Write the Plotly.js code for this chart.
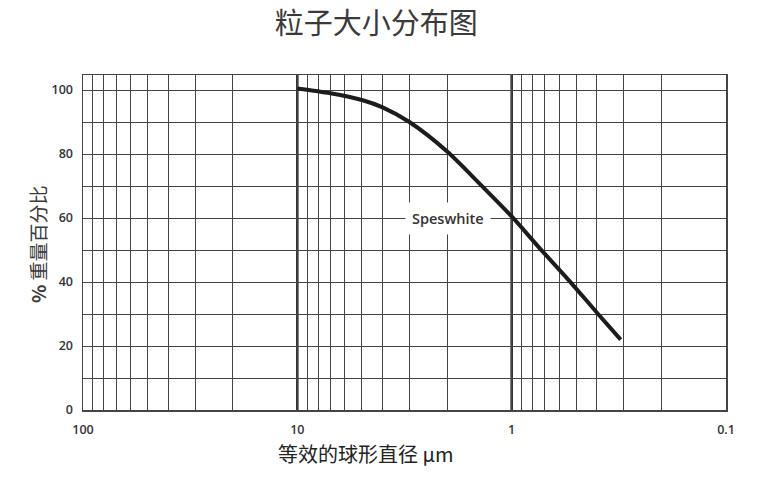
<!DOCTYPE html>
<html><head><meta charset="utf-8">
<script src="https://cdn.plot.ly/plotly-3.0.1.min.js"></script>
<style>html,body{margin:0;padding:0;background:#fff;}#chart{width:763px;height:490px;}</style>
</head><body><div id="chart"></div>
<script>
// Equivalent spherical diameter (µm) and cumulative % by weight finer
const diameter = [10, 7, 5, 4, 3, 2, 1.39, 1, 0.75, 0.537, 0.4, 0.31];
const percent  = [100.5, 99, 96.9, 94.6, 90, 80.8, 70.3, 60.5, 51, 40.3, 30.4, 22];
const seriesName = 'Speswhite';

const xGrid = [100,90,80,70,60,50,40,30,20,10,9,8,7,6,5,4,3,2,1,0.9,0.8,0.7,0.6,0.5,0.4,0.3,0.2,0.1];
const xLabeled = [100,10,1,0.1];
const xLabelText = ['100','10','1','0.1'];
const xEmphasis = [10, 1];
const yGrid = [0,10,20,30,40,50,60,70,80,90,100];
const yLabeled = [0,20,40,60,80,100];

const titleText = '粒子大小分布图';
const xTitle = '等效的球形直径 μm';
const yTitle = '<b>%</b> 重量百分比';

const xTickText = xGrid.map(v => { const i = xLabeled.indexOf(v); return i >= 0 ? xLabelText[i] : ''; });
const yTickText = yGrid.map(v => yLabeled.includes(v) ? String(v) : '');

const tickFont = {family:'Open Sans, sans-serif', size:12.5, color:'#333', weight:600};

const trace = {
  x: diameter, y: percent, type:'scatter', mode:'lines', name: seriesName,
  line:{color:'#1c1c1c', width:4, shape:'spline', smoothing:0.8},
  hoverinfo:'skip', showlegend:false
};

const layout = {
  width:763, height:490,
  margin:{l:83, r:37, t:75, b:80},
  paper_bgcolor:'#fff', plot_bgcolor:'#fff',
  title:{text:titleText, font:{family:'Noto Sans CJK SC, sans-serif', size:29, color:'#3a3a3a'},
         x:0.493, xanchor:'center', y:0.952, yanchor:'middle', yref:'container'},
  xaxis:{type:'log', range:[2,-1], tickmode:'array', tickvals:xGrid, ticktext:xTickText,
         showgrid:true, gridcolor:'#444', gridwidth:1, zeroline:false,
         showline:true, mirror:true, linecolor:'#444', linewidth:1.5,
         ticks:'', tickfont:tickFont, ticklabelstandoff:7},
  yaxis:{range:[0,104.7], tickmode:'array', tickvals:yGrid, ticktext:yTickText,
         showgrid:true, gridcolor:'#444', gridwidth:1, zeroline:false,
         showline:true, mirror:true, linecolor:'#444', linewidth:1.5,
         ticks:'', tickfont:tickFont, ticklabelstandoff:6},
  shapes: xEmphasis.map(v => ({type:'line', xref:'x', yref:'paper', x0:v, x1:v, y0:0, y1:1,
                           line:{color:'#222', width:2.5}, layer:'below'})),
  annotations:[
    {text:seriesName, xref:'x', yref:'y', x:Math.log10(1.99), y:60, showarrow:false,
     font:{family:'Open Sans, sans-serif', size:14.5, color:'#333', weight:600},
     bgcolor:'#fff', borderpad:6, xanchor:'center', yanchor:'middle'},
    {text:xTitle, xref:'paper', yref:'paper', x:(366-83)/643, y:-0.13, xanchor:'center', yanchor:'middle',
     showarrow:false, font:{family:'Noto Sans CJK SC, sans-serif', size:20, color:'#222'}},
    {text:yTitle, xref:'paper', yref:'paper', x:-(83-37)/643, y:(410-244)/335, xanchor:'center', yanchor:'middle',
     textangle:-90, showarrow:false, font:{family:'Noto Sans CJK SC, sans-serif', size:19, color:'#3a3a3a'}}
  ]
};

Plotly.newPlot('chart', [trace], layout, {displayModeBar:false, staticPlot:true});
</script></body></html>
